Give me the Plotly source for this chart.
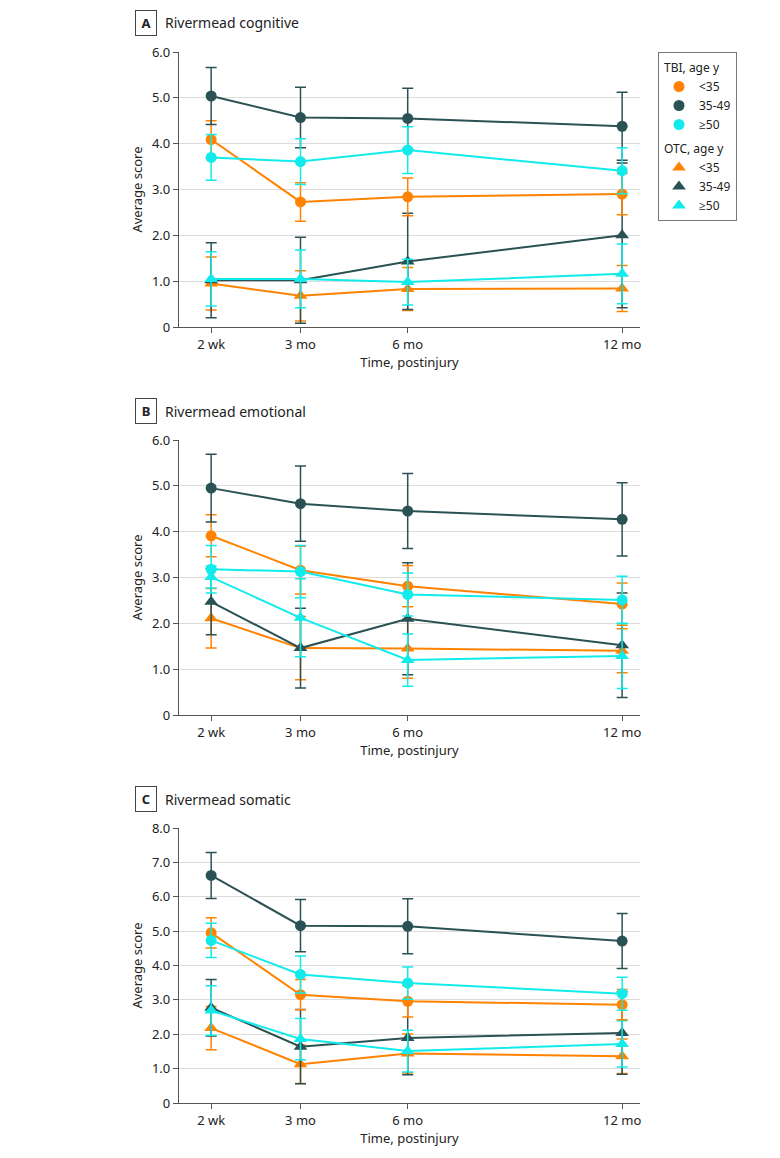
import plotly.graph_objects as go
from plotly.subplots import make_subplots

# ── data ──────────────────────────────────────────────────────────────────────
time_months = [0.5, 3, 6, 12]
time_labels = ["2 wk", "3 mo", "6 mo", "12 mo"]
age_groups = ["<35", "35-49", "≥50"]

# Rivermead cognitive
cog_tbi_mean = [[4.09, 2.73, 2.84, 2.90], [5.04, 4.57, 4.55, 4.38], [3.70, 3.61, 3.86, 3.41]]
cog_tbi_err = [[0.41, 0.42, 0.41, 0.45], [0.62, 0.66, 0.66, 0.74], [0.50, 0.50, 0.51, 0.50]]
cog_otc_mean = [[0.95, 0.68, 0.83, 0.84], [1.02, 1.02, 1.43, 2.00], [1.05, 1.05, 0.98, 1.16]]
cog_otc_err = [[0.58, 0.55, 0.47, 0.50], [0.82, 0.94, 1.05, 1.58], [0.59, 0.63, 0.50, 0.65]]

# Rivermead emotional
emo_tbi_mean = [[3.91, 3.16, 2.81, 2.42], [4.95, 4.61, 4.45, 4.27], [3.18, 3.13, 2.63, 2.51]]
emo_tbi_err = [[0.46, 0.52, 0.45, 0.46], [0.74, 0.82, 0.82, 0.80], [0.52, 0.57, 0.47, 0.52]]
emo_otc_mean = [[2.11, 1.46, 1.45, 1.40], [2.47, 1.46, 2.10, 1.52], [3.01, 2.12, 1.20, 1.29]]
emo_otc_err = [[0.65, 0.69, 0.65, 0.48], [0.72, 0.87, 1.22, 1.14], [0.24, 0.85, 0.57, 0.71]]

# Rivermead somatic
som_tbi_mean = [[4.95, 3.15, 2.96, 2.86], [6.62, 5.16, 5.14, 4.71], [4.73, 3.74, 3.49, 3.18]]
som_tbi_err = [[0.44, 0.44, 0.46, 0.44], [0.67, 0.76, 0.80, 0.80], [0.50, 0.54, 0.47, 0.48]]
som_otc_mean = [[2.18, 1.13, 1.44, 1.36], [2.77, 1.64, 1.89, 2.04], [2.69, 1.86, 1.51, 1.72]]
som_otc_err = [[0.63, 0.56, 0.57, 0.50], [0.82, 1.08, 1.07, 1.20], [0.72, 0.60, 0.61, 0.67]]

panel_titles = ["Rivermead cognitive", "Rivermead emotional", "Rivermead somatic"]
panel_letters = ["A", "B", "C"]
y_max = [6, 6, 8]

COLORS = ["#FF8300", "#2A5254", "#12EBEB"]
FONT = "Noto Sans, Open Sans, sans-serif"
TEXT = "#222222"
GRID = "#DCDCDC"
AXIS = "#555555"

W, H = 780, 1158
OFF = 8  # page body margin
M_L, M_R, M_T, M_B = 171, 148, 12, 28
PH = H - M_T - M_B
PW = W - M_L - M_R


def py(pix):
    return (H - M_B - (pix - OFF)) / PH


def px_(pix):
    return (pix - OFF - M_L) / PW


# pixel positions of each panel (top of y range, bottom = 0)
panel_pix = [(52, 327), (440, 715), (828, 1103)]

fig = make_subplots(rows=3, cols=1)

panels = [
    (cog_tbi_mean, cog_tbi_err, cog_otc_mean, cog_otc_err),
    (emo_tbi_mean, emo_tbi_err, emo_otc_mean, emo_otc_err),
    (som_tbi_mean, som_tbi_err, som_otc_mean, som_otc_err),
]
styles = {"TBI": ("circle", 11), "OTC": ("triangle-up", 12)}

for p, (tm, te, om, oe) in enumerate(panels, start=1):
    for kind, means, errs in [("OTC", om, oe), ("TBI", tm, te)]:
        symbol, size = styles[kind]
        for g in range(3):
            fig.add_trace(go.Scatter(
                x=time_months, y=means[g],
                mode="lines+markers", showlegend=False,
                line=dict(color=COLORS[g], width=2),
                marker=dict(color=COLORS[g], symbol=symbol, size=size),
                error_y=dict(type="data", array=errs[g], color=COLORS[g],
                             thickness=1.5, width=5.5),
                hoverinfo="x+y",
            ), row=p, col=1)

    top, bot = panel_pix[p - 1]
    ym = y_max[p - 1]
    fig.update_yaxes(
        domain=[py(bot), py(top)], range=[0, ym],
        tickvals=list(range(ym + 1)),
        ticktext=["0"] + [f"{v}.0" for v in range(1, ym + 1)],
        showgrid=True, gridcolor=GRID, gridwidth=1.2,
        zeroline=False, showline=True, linecolor=AXIS, linewidth=1.2,
        ticks="outside", ticklen=5, tickcolor=AXIS, automargin=False,
        tickfont=dict(size=13, color=TEXT, family=FONT),
        title=dict(text="Average score", standoff=6,
                   font=dict(size=13, color=TEXT, family=FONT)),
        row=p, col=1,
    )
    fig.update_xaxes(
        range=[-0.4, 12.5], tickvals=time_months, ticktext=time_labels,
        showgrid=False, zeroline=False, showline=True, linecolor=AXIS, linewidth=1.2,
        ticks="outside", ticklen=5, tickcolor=AXIS, automargin=False,
        tickfont=dict(size=13, color=TEXT, family=FONT),
        title=dict(text="Time, postinjury", standoff=4,
                   font=dict(size=13, color=TEXT, family=FONT)),
        row=p, col=1,
    )

    # boxed panel letter + title
    ty = top - 29
    fig.add_annotation(
        x=px_(146), y=py(ty), xref="paper", yref="paper",
        text=f"<b>{panel_letters[p - 1]}</b>", showarrow=False,
        font=dict(size=13, color=TEXT, family=FONT),
        bordercolor="#444444", borderwidth=1, borderpad=3,
        width=14, xanchor="center", yanchor="middle",
    )
    fig.add_annotation(
        x=px_(163), y=py(ty), xref="paper", yref="paper",
        text=panel_titles[p - 1], showarrow=False,
        font=dict(size=14, color=TEXT, family=FONT),
        xanchor="left", yanchor="middle",
    )

# legend-only marker entries
for rank, kind in enumerate(["TBI", "OTC"]):
    symbol, size = styles[kind]
    for g in range(3):
        fig.add_trace(go.Scatter(
            x=[None], y=[None], mode="markers", name=age_groups[g],
            legendgroup=kind,
            legendgrouptitle=dict(text=f"{kind}, age y"),
            legendrank=rank * 10 + g,
            marker=dict(color=COLORS[g], symbol=symbol, size=size),
        ), row=1, col=1)

fig.update_layout(
    width=W, height=H,
    margin=dict(l=M_L, r=M_R, t=M_T, b=M_B, autoexpand=False),
    paper_bgcolor="white", plot_bgcolor="white",
    font=dict(family=FONT, color=TEXT, size=13),
    legend=dict(
        x=px_(658), y=py(52), xanchor="left", yanchor="top",
        bordercolor="#777777", borderwidth=1, bgcolor="white",
        font=dict(size=12, color=TEXT, family=FONT),
        grouptitlefont=dict(size=12, color=TEXT, family=FONT),
        tracegroupgap=5, itemwidth=30,
    ),
)

fig.write_html("out.html")
